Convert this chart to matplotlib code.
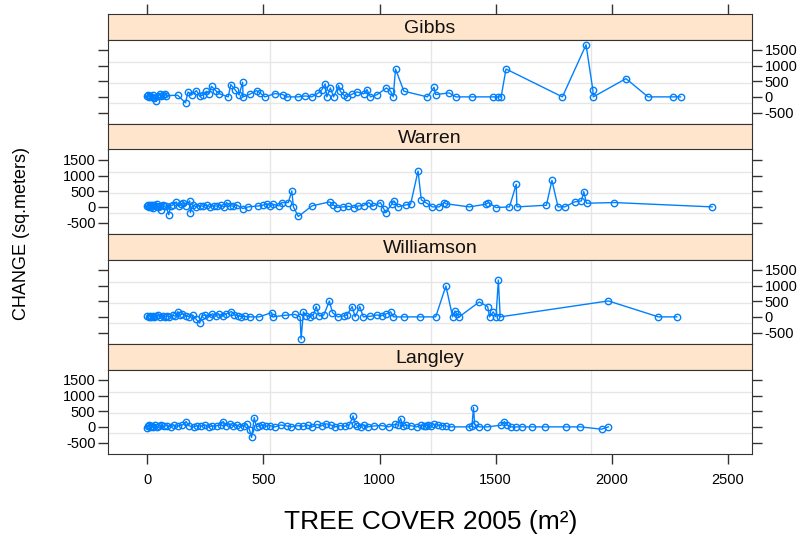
import matplotlib
matplotlib.use("Agg")
import matplotlib.pyplot as plt

plt.rcParams['font.family'] = ['Liberation Sans', 'DejaVu Sans']
plt.rcParams['axes.unicode_minus'] = False

# panel names, top to bottom
panels = ['Gibbs', 'Warren', 'Williamson', 'Langley']

x_gibbs = [
    0, 3, 8, 12, 18, 25, 30, 37, 45, 52,
    59, 68, 75, 82, 130, 164, 175, 190, 211, 225,
    240, 254, 265, 276, 297, 310, 348, 359, 377, 395,
    410, 412, 440, 470, 485, 506, 550, 583, 600, 650,
    680, 708, 737, 752, 766, 773, 788, 802, 824, 831,
    845, 860, 880, 903, 932, 946, 961, 990, 1030, 1048,
    1059, 1069, 1105, 1206, 1235, 1242, 1300, 1329, 1398, 1488,
    1509, 1524, 1545, 1788, 1890, 1919, 1921, 2062, 2157, 2264,
    2297]
y_gibbs = [
    20, 60, -10, 40, 0, 70, -30, -137, 30, 80,
    20, 60, 80, 40, 53, -191, 159, 60, 201, 20,
    60, 180, 100, 339, 180, 100, 0, 392, 233, 60,
    466, 0, 80, 201, 127, 0, 106, 74, 0, 0,
    30, 0, 127, 233, 413, 0, 286, 0, 360, 180,
    60, 0, 80, 159, 95, 233, 0, 74, 286, 180,
    0, 890, 180, 0, 307, 74, 127, 0, 0, 0,
    0, 0, 890, 0, 1664, 233, 0, 583, 0, 0,
    0]

x_warren = [
    0, 4, 8, 12, 16, 20, 25, 30, 35, 40,
    46, 52, 58, 65, 72, 80, 92, 100, 110, 124,
    135, 145, 153, 165, 182, 185, 195, 210, 225, 240,
    255, 270, 285, 300, 315, 330, 341, 355, 370, 385,
    411, 434, 478, 500, 514, 530, 543, 565, 579, 607,
    622, 629, 650, 709, 785, 801, 818, 844, 866, 888,
    909, 931, 954, 970, 1004, 1019, 1026, 1055, 1062, 1080,
    1113, 1134, 1166, 1180, 1199, 1228, 1257, 1278, 1286, 1387,
    1459, 1469, 1502, 1560, 1589, 1592, 1719, 1743, 1769, 1798,
    1841, 1870, 1880, 1892, 2012, 2433]
y_warren = [
    30, 60, 0, 45, 10, 70, -20, 50, 20, 80,
    0, 40, -100, 60, 20, 30, -254, 40, 60, 159,
    20, 80, 138, 40, 191, -180, 60, 0, 40, 20,
    60, 0, 40, 20, 60, 0, 138, 40, 20, 60,
    -53, 0, 30, 60, 100, 40, 80, 30, 138, 138,
    509, 0, -307, 32, 159, 60, -20, 0, 20, -20,
    30, 40, 138, 20, 138, -74, -180, 106, 191, 0,
    64, 85, 1145, 223, 138, 0, 0, 138, 100, 0,
    85, 138, -21, 0, 721, 0, 53, 848, 0, 0,
    159, 191, 488, 117, 138, 0]

x_will = [
    0, 5, 10, 15, 22, 30, 38, 45, 55, 65,
    75, 85, 95, 110, 120, 131, 140, 150, 165, 180,
    195, 210, 225, 235, 250, 265, 280, 295, 310, 325,
    340, 362, 375, 390, 405, 420, 440, 482, 535, 540,
    593, 636, 658, 662, 672, 685, 700, 715, 727, 740,
    760, 784, 797, 820, 845, 860, 882, 895, 915, 930,
    960, 990, 1010, 1030, 1048, 1060, 1105, 1174, 1242, 1286,
    1315, 1325, 1332, 1343, 1430, 1466, 1474, 1490, 1502, 1512,
    1520, 1986, 2202, 2281]
y_will = [
    20, 0, 40, 10, 30, 0, 20, 60, 0, 30,
    10, 40, 0, 50, 20, 170, 60, 100, 40, 0,
    60, -80, -201, 40, 60, 0, 100, 40, 80, 30,
    100, 170, 60, 40, 0, 20, 0, 0, 138, 0,
    50, 80, 0, -710, 159, 30, 0, 60, 329, 30,
    60, 509, 138, 0, 30, 60, 329, 0, 329, 0,
    20, 60, 40, 100, 159, 0, 0, 0, 0, 986,
    0, 191, 100, 0, 477, 329, 0, 160, 0, 1177,
    0, 509, 0, 0]

x_lang = [
    0, 4, 8, 12, 18, 25, 32, 40, 50, 60,
    70, 85, 100, 115, 130, 150, 167, 180, 200, 215,
    230, 250, 265, 280, 300, 315, 326, 340, 355, 370,
    385, 400, 415, 430, 440, 449, 460, 470, 480, 495,
    510, 530, 550, 575, 600, 620, 650, 670, 690, 710,
    730, 750, 770, 790, 810, 830, 850, 870, 886, 895,
    905, 920, 935, 950, 975, 1010, 1040, 1065, 1080, 1091,
    1100, 1115, 1134, 1160, 1177, 1190, 1199, 1210, 1221, 1235,
    1250, 1271, 1286, 1307, 1387, 1398, 1405, 1410, 1430, 1463,
    1524, 1538, 1550, 1565, 1589, 1613, 1656, 1711, 1802, 1866,
    1957, 1986]
y_lang = [
    -30, 20, 60, 0, 40, 10, 50, 0, 30, 60,
    20, 40, 0, 50, 20, 60, 170, 30, 0, 40,
    20, 60, 0, 30, 40, 60, 170, 40, 100, 30,
    60, 0, 40, 80, -100, -339, 297, 0, 30, 60,
    20, 40, 0, 60, 30, 0, 40, 20, 60, 0,
    80, 30, 100, 60, 0, 40, 20, 60, 350, 100,
    30, 0, 60, 0, 30, 40, 0, 80, 60, 265,
    20, 60, 40, 0, 53, 40, 30, 60, 30, 80,
    60, 40, 30, 0, 0, 20, 615, 80, 0, 0,
    53, 170, 60, 0, 0, 0, 0, 0, 0, 0,
    -74, 0]

series = [(x_gibbs, y_gibbs), (x_warren, y_warren), (x_will, y_will), (x_lang, y_lang)]

x_ticks = [0, 500, 1000, 1500, 2000, 2500]
y_ticks = [-500, 0, 500, 1000, 1500]
x_grid = [528, 1221, 1913]
y_grid = [-200, 457, 1115]

W, H = 805, 542
fig = plt.figure(figsize=(W / 100, H / 100), dpi=100)

left, right, top = 108, 752, 14
strip_h, data_h = 25.5, 84.5
xlim = (-170, 2605)
ylim = (-866, 1832)
blue = '#0080ff'
edge = '#333333'

def box(y0, h):
    return [left / W, 1 - (y0 + h) / H, (right - left) / W, h / H]

for i, name in enumerate(panels):
    y_strip = top + i * (strip_h + data_h)
    sax = fig.add_axes(box(y_strip, strip_h))
    sax.set_facecolor('#ffe5cc')
    sax.set_xlim(xlim)
    sax.set_yticks([])
    for s in sax.spines.values():
        s.set_color(edge)
    sax.text(0.5, 0.45, name, transform=sax.transAxes, ha='center', va='center',
             fontsize=14, color='#111111')
    if i == 0:
        sax.set_xticks(x_ticks)
        sax.tick_params(axis='x', top=True, bottom=False, labeltop=False,
                        labelbottom=False, direction='out', length=7, width=1,
                        color=edge)
    else:
        sax.set_xticks([])

    ax = fig.add_axes(box(y_strip + strip_h, data_h))
    ax.set_xlim(xlim)
    ax.set_ylim(ylim)
    for s in ax.spines.values():
        s.set_color(edge)
    for g in x_grid:
        ax.axvline(g, color='#e6e6e6', lw=1, zorder=0)
    for g in y_grid:
        ax.axhline(g, color='#e6e6e6', lw=1, zorder=0)

    xs, ys = series[i]
    ax.plot(xs, ys, color=blue, lw=1, marker='o', ms=4.6, mfc='none',
            mec=blue, mew=1)

    ax.set_yticks(y_ticks)
    ax.tick_params(axis='y', left=True, right=True, direction='out', length=7,
                   width=1, color=edge, labelleft=(i % 2 == 1),
                   labelright=(i % 2 == 0), labelsize=10.5, pad=2)
    ax.set_xticks(x_ticks)
    if i == len(panels) - 1:
        ax.tick_params(axis='x', bottom=True, labelbottom=True, direction='out',
                       length=7, width=1, color=edge, labelsize=10.5, pad=7)
    else:
        ax.tick_params(axis='x', bottom=False, labelbottom=False)

fig.text(22 / W, 1 - 233 / H, 'CHANGE (sq.meters)', rotation=90,
         ha='center', va='center', fontsize=13)
fig.text(431 / W, 1 - 522 / H, 'TREE COVER 2005 (m²)', ha='center',
         va='center', fontsize=19)

fig.savefig('out.png', dpi=100)
